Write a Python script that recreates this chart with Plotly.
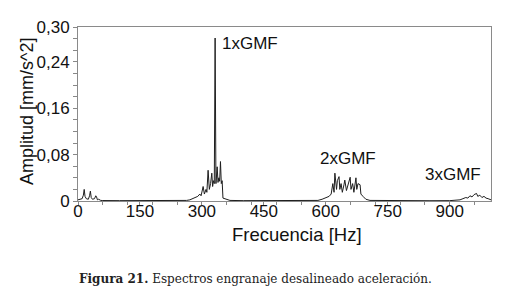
import plotly.graph_objects as go

# Spectrum (Hz, mm/s^2)
freq_hz = [
    0, 5, 10, 13, 15, 17, 20, 25, 28, 30, 32, 35, 40, 43, 45, 47, 50, 55, 60,
    100, 150, 200, 240, 263, 271, 283, 290, 295, 298, 303, 306, 310, 312, 315,
    318, 321, 324, 326, 328, 330, 332, 334, 337, 339, 341, 343, 345, 347, 349,
    351, 358, 368, 400, 450, 500, 550, 581, 591, 600, 608, 613, 617, 620, 622,
    626, 628, 632, 634, 637, 640, 644, 646, 650, 654, 659, 661, 665, 668, 673,
    675, 678, 683, 685, 690, 697, 707, 750, 800, 850, 900, 913, 925, 932, 939,
    944, 949, 954, 959, 965, 968, 973, 978, 983, 988, 993, 1000,
]
amp_mm_s2 = [
    0.002, 0.003, 0.004, 0.010, 0.020, 0.008, 0.004, 0.003, 0.009, 0.017, 0.006, 0.003, 0.004, 0.009, 0.007, 0.002, 0.003, 0.001, 0.0008,
    0.0006, 0.0005, 0.0006, 0.0008, 0.001, 0.002, 0.005, 0.008, 0.012, 0.009, 0.025, 0.012, 0.020, 0.015, 0.053,
    0.020, 0.030, 0.048, 0.025, 0.035, 0.030, 0.281, 0.030, 0.059, 0.032, 0.040, 0.034, 0.068, 0.030, 0.035,
    0.005, 0.003, 0.001, 0.0006, 0.0005, 0.0005, 0.0006, 0.001, 0.003, 0.005, 0.008, 0.012, 0.030, 0.015, 0.048,
    0.020, 0.035, 0.042, 0.020, 0.030, 0.015, 0.028, 0.036, 0.018, 0.030, 0.041, 0.020, 0.030, 0.015, 0.040,
    0.020, 0.030, 0.028, 0.012, 0.008, 0.003, 0.001, 0.0006, 0.0005, 0.0005, 0.0006, 0.001, 0.002, 0.004, 0.006,
    0.005, 0.009, 0.007, 0.011, 0.013, 0.008, 0.010, 0.006, 0.008, 0.005, 0.004, 0.002,
]

x_tick_vals = [0, 150, 300, 450, 600, 750, 900]
x_tick_text = ["0", "150", "300", "450", "600", "750", "900"]
y_tick_vals = [0, 0.08, 0.16, 0.24, 0.30]
y_tick_text = ["0", "0,08", "0,16", "0,24", "0,30"]
y_minor_vals = [0.02 * i for i in range(16)]
x_minor_vals = [60 * i for i in range(17)]

harmonic_labels = ["1xGMF", "2xGMF", "3xGMF"]
harmonic_x = [344, 654, 909]
harmonic_y = [0.271, 0.074, 0.045]
harmonic_anchor = ["left", "center", "center"]

x_title = "Frecuencia [Hz]"
y_title = "Amplitud [mm/s^2]"
caption = "<b>Figura 21.</b> Espectros engranaje desalineado aceleración."

sans = "Liberation Sans, Arial, sans-serif"

fig = go.Figure()
fig.add_trace(go.Scatter(
    x=freq_hz, y=amp_mm_s2, mode="lines",
    line=dict(color="#1e1e1e", width=1),
    showlegend=False, hoverinfo="skip",
))

annots = []
for lab, hx, hy, anc in zip(harmonic_labels, harmonic_x, harmonic_y, harmonic_anchor):
    annots.append(dict(
        x=hx, y=hy, xref="x", yref="y", text=lab, showarrow=False,
        xanchor=anc, yanchor="middle",
        font=dict(family=sans, size=17, color="#111"),
    ))
# axis titles (placed to match the reference)
annots.append(dict(
    x=0.530, y=-0.19, xref="paper", yref="paper", text=x_title, showarrow=False,
    xanchor="center", yanchor="middle",
    font=dict(family=sans, size=18.5, color="#111"),
))
annots.append(dict(
    x=-0.1235, y=0.517, xref="paper", yref="paper", text=y_title, showarrow=False,
    textangle=-90, xanchor="center", yanchor="middle",
    font=dict(family=sans, size=18, color="#111"),
))
annots.append(dict(
    x=0.4286, y=-0.448, xref="paper", yref="paper", text=caption, showarrow=False,
    xanchor="center", yanchor="middle",
    font=dict(family="DejaVu Serif, serif", size=12, color="#222"),
))

axis_font = dict(family=sans, size=17, color="#111")

fig.update_layout(
    width=511, height=298,
    margin=dict(l=70, r=28, t=19, b=105, autoexpand=False),
    paper_bgcolor="white", plot_bgcolor="white",
    annotations=annots,
    xaxis=dict(
        range=[0, 1000], showgrid=False, zeroline=False, automargin=False,
        tickmode="array", tickvals=x_tick_vals, ticktext=x_tick_text,
        ticks="outside", ticklen=3, tickcolor="#888", tickwidth=1,
        ticklabelstandoff=-8,
        minor=dict(tickmode="array", tickvals=x_minor_vals, ticks="outside", ticklen=3, tickcolor="#888"),
        showline=True, linecolor="#8a8a8a", linewidth=1, mirror=True,
        tickfont=axis_font,
    ),
    yaxis=dict(
        range=[0, 0.30], showgrid=False, zeroline=False, automargin=False,
        tickmode="array", tickvals=y_tick_vals, ticktext=y_tick_text,
        ticks="outside", ticklen=4, tickcolor="#888", tickwidth=1,
        minor=dict(tickmode="array", tickvals=y_minor_vals, ticks="outside", ticklen=4, tickcolor="#888"),
        showline=True, linecolor="#8a8a8a", linewidth=1, mirror=True,
        tickfont=axis_font,
    ),
)

fig.write_html("out.html")
